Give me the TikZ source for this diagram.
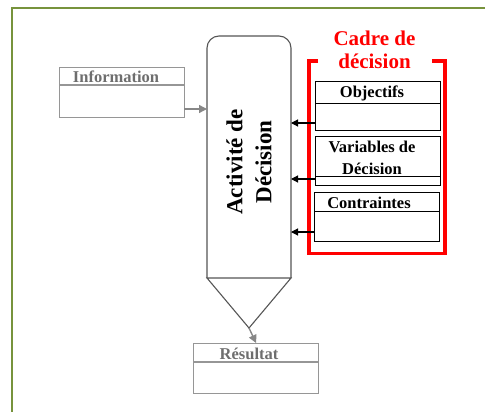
\documentclass[tikz,border=0pt]{standalone}
\usepackage{fontspec}
\setmainfont{Liberation Serif}
\usetikzlibrary{arrows.meta}
\definecolor{framegreen}{RGB}{119,147,60}
\definecolor{boxgray}{RGB}{150,150,150}
\definecolor{txtgray}{RGB}{110,110,110}
\definecolor{maingray}{RGB}{85,85,85}
\definecolor{redc}{RGB}{255,0,0}
\tikzset{
  graybox/.style={draw=boxgray, line width=1.2pt, minimum width=125pt, minimum height=50pt, anchor=north west, inner sep=0pt},
  blackbox/.style={draw=black, line width=1pt, minimum width=125pt, minimum height=49pt, anchor=north west, inner sep=0pt},
  graytxt/.style={font=\fontsize{16.5}{18}\selectfont\bfseries, text=txtgray, anchor=base, inner sep=0pt},
  blacktxt/.style={font=\fontsize{16.5}{18}\selectfont\bfseries, text=black, anchor=base, inner sep=0pt},
  redtxt/.style={font=\fontsize{21}{24}\selectfont\bfseries, text=redc, anchor=base, inner sep=0pt},
  grayarrow/.style={draw=boxgray!90!black, line width=1.4pt, -{Triangle[length=8pt,width=8pt]}},
  blackarrow/.style={draw=black, line width=1.1pt, -{Triangle[length=7pt,width=7pt]}},
}
\begin{document}
\begin{tikzpicture}[x=1pt,y=-1pt]
\useasboundingbox (0,0) rectangle (485,412);
% green frame
\draw[framegreen, line width=2pt] (12,420) -- (12,8) -- (495,8);
% Information
\node[graybox] (info) at (59,67) {};
\draw[boxgray, line width=1.2pt] (59,85) -- (184,85);
\node[graytxt] (infot) at (116,83) {Information};
% main box
\coordinate (mtl) at (207,36);
\coordinate (mbl) at (207,278);
\coordinate (mbr) at (291,278);
\coordinate (apex) at (249,328);
\draw[maingray, line width=1.1pt, rounded corners=12pt] (mbl) -- (207,36) -- (291,36) -- (mbr);
\draw[maingray, line width=1.1pt] (mbl) -- (mbr) -- (apex) -- cycle;
\node[rotate=90, align=center, font=\fontsize{23}{29}\selectfont\bfseries, inner sep=0pt] (act) at (249,162) {Activité de\\Décision};
% arrow info -> main
\coordinate (infoout) at (184,109);
\coordinate (mainin) at (207,109);
\draw[grayarrow] (infoout) -- (mainin);
% Resultat
\node[graybox] (res) at (193,343) {};
\draw[boxgray, line width=1.2pt] (193,362) -- (318,362);
\node[graytxt] (rest) at (249,359) {Résultat};
\draw[grayarrow] (apex) -- (res.north);
% red bracket
\draw[redc, line width=3.5pt] (318,61) -- (309,61) -- (309,253.5) -- (445,253.5) -- (445,61) -- (432,61);
\node[redtxt] (cadre1) at (374.5,46) {Cadre de};
\node[redtxt] (cadre2) at (374.5,69) {décision};
% Objectifs
\node[blackbox] (obj) at (315,81) {};
\draw[black, line width=1pt] (315,104) -- (440,104);
\node[blacktxt] (objt) at (372,98) {Objectifs};
% Variables
\node[blackbox] (var) at (315,136) {};
\draw[black, line width=1pt] (315,176) -- (440,176);
\node[blacktxt] (vart1) at (372,153) {Variables de};
\node[blacktxt] (vart2) at (372,174) {Décision};
% Contraintes
\node[blackbox] (con) at (314,192) {};
\draw[black, line width=1pt] (314,211) -- (439,211);
\node[blacktxt] (cont) at (369,208) {Contraintes};
% arrows
\coordinate (a1) at (291,123);
\coordinate (a2) at (291,179);
\coordinate (a3) at (291,232);
\draw[blackarrow] (obj.west |- a1) -- (a1);
\draw[blackarrow] (var.west |- a2) -- (a2);
\draw[blackarrow] (con.west |- a3) -- (a3);
\end{tikzpicture}
\end{document}
